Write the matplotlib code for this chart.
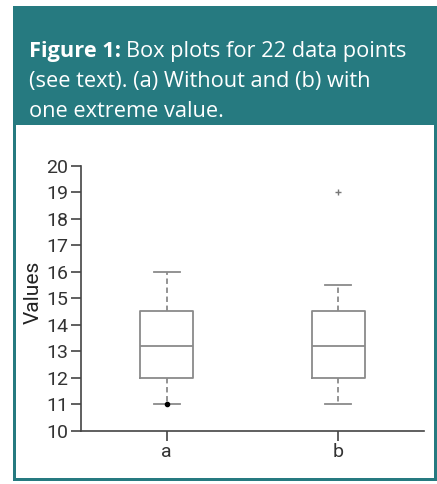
import matplotlib.pyplot as plt
from matplotlib.patches import Rectangle

labels = ['a', 'b']
q1 = [12.0, 12.0]
med = [13.2, 13.2]
q3 = [14.5, 14.5]
whislo = [11.0, 11.0]
whishi = [16.0, 15.5]
dots_a = [11.0]
plus_b = [19.0]

teal = '#267a80'
W, H = 437, 484
fig = plt.figure(figsize=(W / 100, H / 100), dpi=100)

# teal panel + white inner box
fig.patches.append(Rectangle((13 / W, 1 - 481 / H), 424 / W, 475 / H, transform=fig.transFigure,
                             facecolor=teal, edgecolor='none', zorder=-2))
fig.patches.append(Rectangle((16 / W, 1 - 478 / H), 418 / W, 353 / H, transform=fig.transFigure,
                             facecolor='white', edgecolor='none', zorder=-1))

# caption
fs = 15.7
t1 = fig.text(29 / W, 1 - 57 / H, 'Figure 1:', color='white', fontsize=fs, fontweight='bold',
              family='Open Sans', va='baseline')
fig.canvas.draw()
bb = t1.get_window_extent()
fig.text((bb.x1 + 5) / W, 1 - 57 / H, 'Box plots for 22 data points', color='white', fontsize=fs,
         family='Open Sans', va='baseline')
fig.text(29 / W, 1 - 87 / H, '(see text). (a) Without and (b) with', color='white', fontsize=fs,
         family='Open Sans', va='baseline')
fig.text(29 / W, 1 - 117 / H, 'one extreme value.', color='white', fontsize=fs,
         family='Open Sans', va='baseline')

ax = fig.add_axes([81 / W, 53.3 / H, 343 / W, 265 / H])
ax.set_facecolor('none')
stats = []
for i in range(2):
    stats.append(dict(label=labels[i], q1=q1[i], med=med[i], q3=q3[i],
                      whislo=whislo[i], whishi=whishi[i], fliers=[]))
gray = '#8a8a8a'
ax.bxp(stats, positions=[1, 2], widths=0.31, showfliers=False,
       boxprops=dict(color=gray, linewidth=1.3),
       medianprops=dict(color=gray, linewidth=1.3),
       whiskerprops=dict(color=gray, linewidth=1.3, linestyle=(0, (3, 2))),
       capprops=dict(color=gray, linewidth=1.3),
       capwidths=0.15)
ax.plot([1] * len(dots_a), dots_a, 'o', color='black', markersize=3)
ax.plot([2] * len(plus_b), plus_b, '+', color='#777777', markersize=4.5, markeredgewidth=1)

ax.set_xlim(0.5, 2.5)
ax.set_ylim(10, 20)
ax.set_yticks(range(10, 21))
ax.set_xticks([1, 2])
ax.set_xticklabels(labels)
for s in ['top', 'right']:
    ax.spines[s].set_visible(False)
for s in ['left', 'bottom']:
    ax.spines[s].set_color('#444444')
    ax.spines[s].set_linewidth(1.2)
ax.tick_params(length=7, width=1.2, color='#444444', labelsize=14, labelcolor='#333333', pad=2)
for lab in ax.get_xticklabels() + ax.get_yticklabels():
    lab.set_family('Roboto')
ax.set_ylabel('Values', fontsize=15, family='Roboto', color='#222222')
ax.yaxis.set_label_coords(-0.112, 0.523)

fig.savefig('out.png', dpi=100)
